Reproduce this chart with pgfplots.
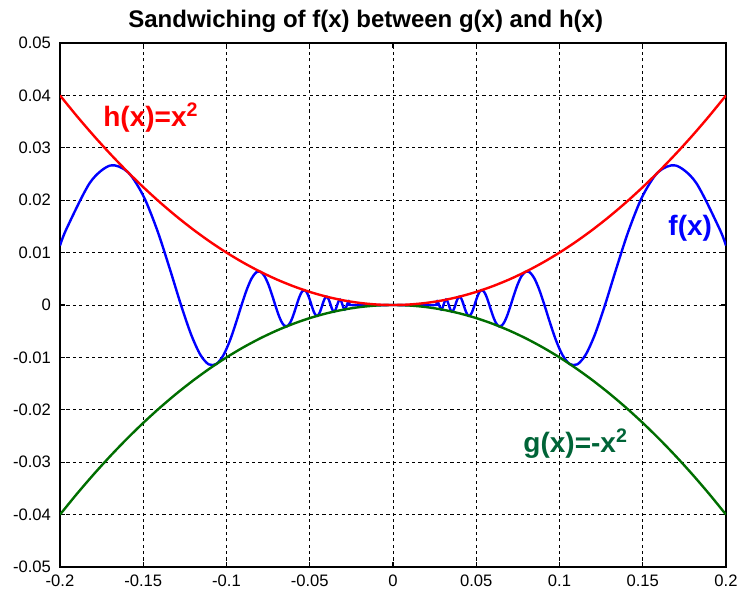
\documentclass[border=0pt]{standalone}
\usepackage{fontspec}
\setmainfont{Liberation Sans}
\usepackage{pgfplots}
\usepackage{pgfplotstable}
\pgfplotsset{compat=1.18}
\definecolor{mred}{RGB}{255,0,0}
\definecolor{mblue}{RGB}{0,0,255}
\definecolor{mgreen}{RGB}{0,110,0}
\definecolor{glabel}{RGB}{0,100,55}

\pgfplotstableread{
x y
0 0
0.025465 0
0.025984 0.000477
0.026526 0.000704
0.027090 0.000519
0.027679 0
0.028294 -0.000566
0.028937 -0.000837
0.029610 -0.000620
0.030315 0
0.031055 0.000682
0.031831 0.001013
0.032647 0.000754
0.033506 0
0.034412 -0.000837
0.035368 -0.001251
0.036378 -0.000936
0.037448 0
0.038583 0.001053
0.039789 0.001583
0.040420 0.001509
0.041072 0.001193
0.041746 0.000667
0.042441 0
0.043161 -0.000713
0.043905 -0.001363
0.044675 -0.001844
0.045473 -0.002068
0.046300 -0.001981
0.047157 -0.001573
0.048047 -0.000883
0.048971 0
0.049931 0.000954
0.050930 0.001834
0.051969 0.002495
0.053052 0.002814
0.054180 0.002712
0.055358 0.002167
0.056588 0.001225
0.057875 0
0.059220 -0.001342
0.060630 -0.002599
0.062109 -0.003564
0.063662 -0.004053
0.065294 -0.003939
0.067013 -0.003175
0.068824 -0.001813
0.070736 0
0.072757 0.002026
0.074896 0.003966
0.077166 0.005501
0.079577 0.006333
0.082145 0.006234
0.084883 0.005095
0.087810 0.002951
0.090946 0
0.094314 -0.003404
0.097941 -0.006783
0.101859 -0.009585
0.106103 -0.011258
0.110716 -0.011325
0.115749 -0.009474
0.121261 -0.005627
0.127324 0
0.134025 0.006874
0.141471 0.014152
0.149793 0.020730
0.159155 0.025330
0.169765 0.026627
0.181891 0.023395
0.195883 0.014684
0.2 0.011347
}\fpos

\pgfplotstableread{
x y
-0.2 0.011347
-0.195883 0.014684
-0.181891 0.023395
-0.169765 0.026627
-0.159155 0.025330
-0.149793 0.020730
-0.141471 0.014152
-0.134025 0.006874
-0.127324 0
-0.121261 -0.005627
-0.115749 -0.009474
-0.110716 -0.011325
-0.106103 -0.011258
-0.101859 -0.009585
-0.097941 -0.006783
-0.094314 -0.003404
-0.090946 0
-0.087810 0.002951
-0.084883 0.005095
-0.082145 0.006234
-0.079577 0.006333
-0.077166 0.005501
-0.074896 0.003966
-0.072757 0.002026
-0.070736 0
-0.068824 -0.001813
-0.067013 -0.003175
-0.065294 -0.003939
-0.063662 -0.004053
-0.062109 -0.003564
-0.060630 -0.002599
-0.059220 -0.001342
-0.057875 0
-0.056588 0.001225
-0.055358 0.002167
-0.054180 0.002712
-0.053052 0.002814
-0.051969 0.002495
-0.050930 0.001834
-0.049931 0.000954
-0.048971 0
-0.048047 -0.000883
-0.047157 -0.001573
-0.046300 -0.001981
-0.045473 -0.002068
-0.044675 -0.001844
-0.043905 -0.001363
-0.043161 -0.000713
-0.042441 0
-0.041746 0.000667
-0.041072 0.001193
-0.040420 0.001509
-0.039789 0.001583
-0.038583 0.001053
-0.037448 0
-0.036378 -0.000936
-0.035368 -0.001251
-0.034412 -0.000837
-0.033506 0
-0.032647 0.000754
-0.031831 0.001013
-0.031055 0.000682
-0.030315 0
-0.029610 -0.000620
-0.028937 -0.000837
-0.028294 -0.000566
-0.027679 0
-0.027090 0.000519
-0.026526 0.000704
-0.025984 0.000477
-0.025465 0
0 0
}\fneg

\pgfplotstableread{
x y
-0.20 0.0400
-0.19 0.0361
-0.18 0.0324
-0.17 0.0289
-0.16 0.0256
-0.15 0.0225
-0.14 0.0196
-0.13 0.0169
-0.12 0.0144
-0.11 0.0121
-0.10 0.0100
-0.09 0.0081
-0.08 0.0064
-0.07 0.0049
-0.06 0.0036
-0.05 0.0025
-0.04 0.0016
-0.03 0.0009
-0.02 0.0004
-0.01 0.0001
0.00 0.0000
0.01 0.0001
0.02 0.0004
0.03 0.0009
0.04 0.0016
0.05 0.0025
0.06 0.0036
0.07 0.0049
0.08 0.0064
0.09 0.0081
0.10 0.0100
0.11 0.0121
0.12 0.0144
0.13 0.0169
0.14 0.0196
0.15 0.0225
0.16 0.0256
0.17 0.0289
0.18 0.0324
0.19 0.0361
0.20 0.0400
}\hdata

\pgfplotstableread{
x y
-0.20 -0.0400
-0.19 -0.0361
-0.18 -0.0324
-0.17 -0.0289
-0.16 -0.0256
-0.15 -0.0225
-0.14 -0.0196
-0.13 -0.0169
-0.12 -0.0144
-0.11 -0.0121
-0.10 -0.0100
-0.09 -0.0081
-0.08 -0.0064
-0.07 -0.0049
-0.06 -0.0036
-0.05 -0.0025
-0.04 -0.0016
-0.03 -0.0009
-0.02 -0.0004
-0.01 -0.0001
0.00 0.0000
0.01 -0.0001
0.02 -0.0004
0.03 -0.0009
0.04 -0.0016
0.05 -0.0025
0.06 -0.0036
0.07 -0.0049
0.08 -0.0064
0.09 -0.0081
0.10 -0.0100
0.11 -0.0121
0.12 -0.0144
0.13 -0.0169
0.14 -0.0196
0.15 -0.0225
0.16 -0.0256
0.17 -0.0289
0.18 -0.0324
0.19 -0.0361
0.20 -0.0400
}\gdata

\begin{document}
\begin{tikzpicture}
\begin{axis}[
  scale only axis,
  width=333pt, height=262pt,
  xmin=-0.2, xmax=0.2, ymin=-0.05, ymax=0.05,
  scaled x ticks=false, scaled y ticks=false,
  xtick={-0.2,-0.15,-0.1,-0.05,0,0.05,0.1,0.15,0.2},
  xticklabels={-0.2,-0.15,-0.1,-0.05,0,0.05,0.1,0.15,0.2},
  ytick={-0.05,-0.04,-0.03,-0.02,-0.01,0,0.01,0.02,0.03,0.04,0.05},
  yticklabels={-0.05,-0.04,-0.03,-0.02,-0.01,0,0.01,0.02,0.03,0.04,0.05},
  tick label style={font=\fontsize{8.3}{10}\selectfont, black},
  yticklabel style={xshift=-1pt},
  xticklabel style={yshift=-0.5pt},
  grid=major,
  major grid style={black, line width=0.45pt, dash pattern=on 1.6pt off 1.6pt},
  axis line style={black, line width=0.6pt},
  tick style={black, line width=0.6pt},
  major tick length=2.5pt,
  every axis title shift=0pt,
  title={Sandwiching of f(x) between g(x) and h(x)},
  title style={font=\fontsize{12}{14}\selectfont\bfseries, at={(0.459,1)}, anchor=base, yshift=8pt, inner sep=0pt},
]
\addplot[mblue, line width=1.2pt, smooth, tension=0.5] table[x=x,y=y] {\fneg};
\addplot[mblue, line width=1.2pt, smooth, tension=0.5] table[x=x,y=y] {\fpos};
\addplot[mgreen, line width=1.2pt, smooth] table[x=x,y=y] {\gdata};
\addplot[mred, line width=1.2pt, smooth] table[x=x,y=y] {\hdata};
\node[anchor=base west, inner sep=0pt, text=mred, font=\fontsize{14}{16}\selectfont\bfseries] at (axis cs:-0.1742,0.0340) {h(x)=x\textsuperscript{2}};
\node[anchor=base west, inner sep=0pt, text=mblue, font=\fontsize{14}{16}\selectfont\bfseries] at (axis cs:0.1652,0.0132) {f(x)};
\node[anchor=base west, inner sep=0pt, text=glabel, font=\fontsize{14}{16}\selectfont\bfseries] at (axis cs:0.0781,-0.0282) {g(x)=-x\textsuperscript{2}};
\end{axis}
\pgfresetboundingbox
\path[use as bounding box] ([xshift=-30pt,yshift=-13pt]current axis.south west) rectangle ([xshift=7.5pt,yshift=21.5pt]current axis.north east);
\end{tikzpicture}
\end{document}
